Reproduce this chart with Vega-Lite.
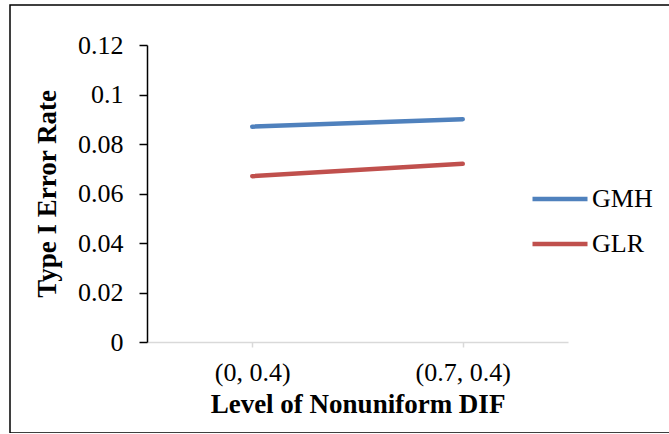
{
  "$schema": "https://vega.github.io/schema/vega-lite/v6.json",
  "autosize": "none",
  "width": 680,
  "height": 428,
  "padding": {"left": 10, "top": 5, "right": 0, "bottom": 0},
  "background": "white",
  "config": {
    "view": {"stroke": "black", "strokeWidth": 1.5},
    "font": "Liberation Serif"
  },
  "data": {
    "values": [
      {"level": "(0, 0.4)", "method": "GMH", "rate": 0.087},
      {"level": "(0.7, 0.4)", "method": "GMH", "rate": 0.090},
      {"level": "(0, 0.4)", "method": "GLR", "rate": 0.067},
      {"level": "(0.7, 0.4)", "method": "GLR", "rate": 0.072}
    ]
  },
  "mark": {"type": "line", "strokeWidth": 4.5, "strokeCap": "round"},
  "encoding": {
    "x": {
      "field": "level",
      "type": "ordinal",
      "sort": null,
      "scale": {"type": "point", "padding": 0.5, "range": [137, 558]},
      "axis": {
        "orient": "bottom",
        "offset": -91,
        "domainColor": "#d9d9d9",
        "domainWidth": 1.5,
        "tickColor": "#d9d9d9",
        "tickWidth": 1.5,
        "tickSize": 5,
        "labelAngle": 0,
        "labelFontSize": 26,
        "labelColor": "black",
        "labelPadding": 12,
        "grid": false,
        "title": "Level of Nonuniform DIF",
        "titleFontSize": 27,
        "titleFontWeight": "bold",
        "titleColor": "black",
        "titlePadding": 6
      }
    },
    "y": {
      "field": "rate",
      "type": "quantitative",
      "scale": {"domain": [0, 0.12], "range": [337, 40], "nice": false},
      "axis": {
        "offset": -137,
        "values": [0, 0.02, 0.04, 0.06, 0.08, 0.1, 0.12],
        "labelExpr": "format(datum.value, '.2~f')",
        "domainColor": "black",
        "domainWidth": 1.5,
        "tickColor": "black",
        "tickWidth": 1.5,
        "tickSize": 8,
        "labelFontSize": 26,
        "labelColor": "black",
        "labelPadding": 16,
        "grid": false,
        "title": "Type I Error Rate",
        "titleFontSize": 27,
        "titleFontWeight": "bold",
        "titleColor": "black",
        "titlePadding": 16
      }
    },
    "color": {
      "field": "method",
      "type": "nominal",
      "sort": ["GMH", "GLR"],
      "scale": {"domain": ["GMH", "GLR"], "range": ["#4F81BD", "#C0504D"]},
      "legend": {
        "title": null,
        "orient": "none",
        "legendX": 520,
        "legendY": 164,
        "symbolType": "stroke",
        "symbolSize": 3025,
        "symbolStrokeWidth": 4.5,
        "labelFontSize": 26,
        "labelColor": "black",
        "labelOffset": 2,
        "rowPadding": 2
      }
    }
  }
}
